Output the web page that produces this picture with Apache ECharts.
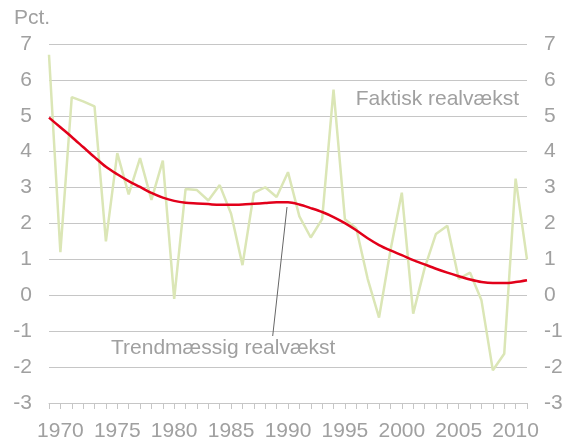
<!DOCTYPE html>
<html>
	<head>
		<meta charset="utf-8" />
		<title>Realvækst</title>
		<style type="text/css">
			html, body {margin:0;padding:0;background:#fff;}
			#chart {width:567px;height:443px;}
		</style>
	</head>
	<body>
		<div id="chart"></div>
		<script src="https://cdn.jsdelivr.net/npm/echarts@6/dist/echarts.min.js"></script>
		<script type="text/javascript">
			// år 1969-2011
			const years = [];
			for (let y = 1969; y <= 2011; y++) years.push(String(y));
			// faktisk realvækst, pct.
			const faktisk = [6.7, 1.2, 5.52, 5.4, 5.26, 1.5, 3.96, 2.81, 3.82, 2.66,
				3.75, -0.1, 2.96, 2.93, 2.64, 3.07, 2.27, 0.84, 2.85, 3.01,
				2.74, 3.43, 2.2, 1.61, 2.12, 5.73, 2.12, 1.86, 0.46, -0.62,
				1.25, 2.86, -0.51, 0.75, 1.71, 1.94, 0.46, 0.63, -0.14, -2.09,
				-1.63, 3.25, 1.0];
			// trendmæssig realvækst, pct.
			const trend = [4.95, 4.68, 4.41, 4.13, 3.85, 3.58, 3.37, 3.18, 3.02, 2.85,
				2.72, 2.63, 2.58, 2.56, 2.54, 2.52, 2.52, 2.53, 2.55, 2.57,
				2.59, 2.59, 2.53, 2.43, 2.32, 2.18, 2.01, 1.81, 1.59, 1.4,
				1.25, 1.12, 0.98, 0.86, 0.74, 0.63, 0.53, 0.44, 0.37, 0.34,
				0.34, 0.37, 0.42];
			const yTicks = {min: -3, max: 7, step: 1};

			const grey = '#a0a0a0';
			const font = '"Liberation Sans", Arial, sans-serif';
			const fs = 21;

			const chart = echarts.init(document.getElementById('chart'));
			const yAxisBase = {
				type: 'value',
				min: yTicks.min,
				max: yTicks.max,
				interval: yTicks.step,
				axisLine: {show: false},
				axisTick: {show: false},
				axisLabel: {color: grey, fontSize: fs, fontFamily: font, margin: 17},
				splitLine: {lineStyle: {color: '#c6c6c6', width: 1}}
			};
			chart.setOption({
				animation: false,
				grid: {left: 49, right: 40, top: 44, bottom: 40, containLabel: false, outerBoundsMode: 'none'},
				xAxis: {
					type: 'category',
					data: years,
					boundaryGap: false,
					axisLine: {onZero: false, lineStyle: {color: '#c6c6c6', width: 1}},
					axisTick: {show: true, interval: 0, length: 6, lineStyle: {color: '#c6c6c6'}},
					axisLabel: {
						color: grey, fontSize: fs, fontFamily: font, margin: 18,
						interval: (i, v) => Number(v) % 5 === 0
					},
					splitLine: {show: false}
				},
				yAxis: [
					Object.assign({position: 'left'}, yAxisBase),
					Object.assign({position: 'right'}, yAxisBase)
				],
				series: [{
					name: 'Faktisk realvækst',
					type: 'line',
					data: faktisk,
					symbol: 'none',
					lineStyle: {color: '#dbe6b6', width: 2.5},
					z: 2
				}, {
					name: 'Trendmæssig realvækst',
					type: 'line',
					data: trend,
					symbol: 'none',
					smooth: 0.3,
					lineStyle: {color: '#e2001a', width: 2.5},
					z: 3
				}],
				graphic: [{
					type: 'text', left: 14, top: 8,
					style: {text: 'Pct.', fill: grey, font: fs + 'px ' + font}
				}, {
					type: 'text', right: 48, top: 89,
					style: {text: 'Faktisk realvækst', fill: grey, font: fs + 'px ' + font}
				}, {
					type: 'text', left: 111, top: 338,
					style: {text: 'Trendmæssig realvækst', fill: grey, font: fs + 'px ' + font}
				}, {
					type: 'line', z: 10,
					shape: {x1: 272.7, y1: 336, x2: 287, y2: 207},
					style: {stroke: '#666', lineWidth: 1}
				}]
			});
		</script>
	</body>
</html>
